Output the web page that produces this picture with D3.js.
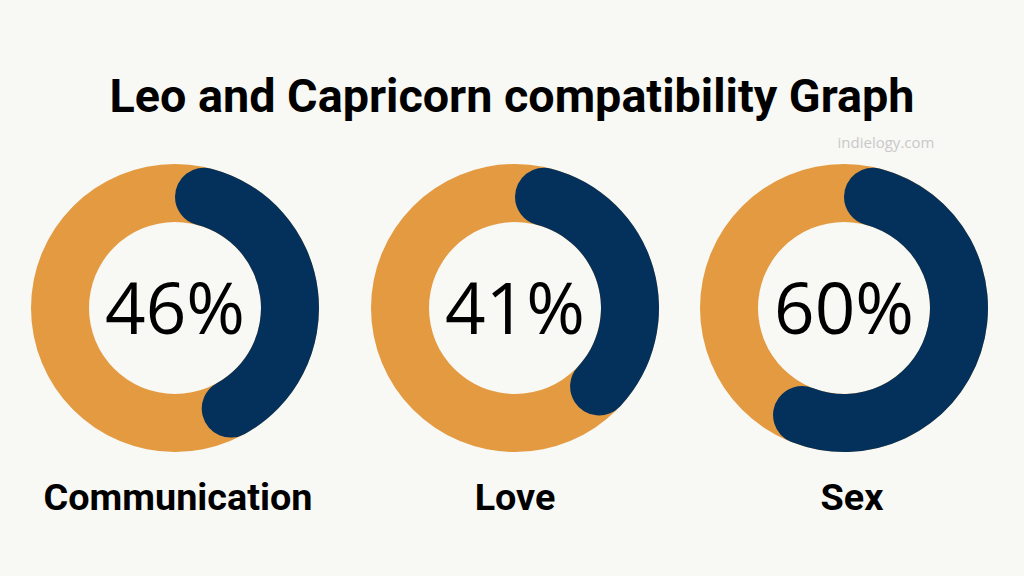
<!DOCTYPE html>
<html>
<head>
<meta charset="utf-8">
<script src="https://cdn.jsdelivr.net/npm/d3@7"></script>
<style>
  html, body { margin: 0; padding: 0; background: #f8f8f4; }
  svg { display: block; }
</style>
</head>
<body>
<script>
// Leo and Capricorn compatibility, three donut gauges

// Data
var categories = ["Communication", "Love", "Sex"];
var values = [46, 41, 60];
var titleText = "Leo and Capricorn compatibility Graph";
var sourceText = "indielogy.com";

// Page dimensions
var width = 1024,
  height = 576;

var outerR = 144,
  innerR = 86,
  centerY = 308;

var svg = d3.select("body")
  .append("svg")
  .attr("width", width)
  .attr("height", height);

svg.append("rect")
  .attr("width", width)
  .attr("height", height)
  .attr("fill", "#f8f8f4");

// x position of each donut (they are not quite evenly spaced)
var x = d3.scaleOrdinal()
  .domain(categories)
  .range([175, 515, 844]);

// label x is a touch off the donut centre
var xLabel = d3.scaleOrdinal()
  .domain(categories)
  .range([178, 515, 852]);

// percentage to angle
var angle = d3.scaleLinear()
  .domain([0, 100])
  .range([0, 2 * Math.PI]);

var ringArc = d3.arc()
  .innerRadius(innerR)
  .outerRadius(outerR)
  .startAngle(0)
  .endAngle(2 * Math.PI);

var valueArc = d3.arc()
  .innerRadius(innerR)
  .outerRadius(outerR)
  .cornerRadius((outerR - innerR) / 2)
  .startAngle(0)
  .endAngle(function(d) { return angle(d.value); });

var data = categories.map(function(c, i) {
  return { name: c, value: values[i] };
});

// Title
var title = svg.append("text")
  .attr("x", 512)
  .attr("y", 112)
  .attr("text-anchor", "middle")
  .style("font-family", "Roboto, 'Noto Sans', sans-serif")
  .style("font-weight", 700)
  .style("font-size", "40px")
  .attr("fill", "#000")
  .text(titleText);

// fit title to the width seen in the picture
var tw = title.node().getComputedTextLength();
title.style("font-size", (40 * 805 / tw) + "px");

svg.append("text")
  .attr("x", 886)
  .attr("y", 148)
  .attr("text-anchor", "middle")
  .style("font-family", "'Open Sans', sans-serif")
  .style("font-size", "15px")
  .attr("fill", "#c9c9c9")
  .text(sourceText);

// Donuts
var g = svg.selectAll(".donut")
  .data(data)
  .enter().append("g")
  .attr("class", "donut")
  .attr("transform", function(d) { return "translate(" + x(d.name) + "," + centerY + ")"; });

g.append("path")
  .attr("d", ringArc())
  .attr("fill", "#e39a41");

g.append("path")
  .attr("d", function(d) { return valueArc(d); })
  .attr("fill", "#04315c");

g.append("text")
  .attr("text-anchor", "middle")
  .attr("y", 26)
  .style("font-family", "'Open Sans', sans-serif")
  .style("font-weight", 400)
  .style("font-size", "71px")
  .attr("fill", "#000")
  .text(function(d) { return d.value + "%"; });

// Labels under the donuts
var labels = svg.selectAll(".label")
  .data(data)
  .enter().append("text")
  .attr("class", "label")
  .attr("x", function(d) { return xLabel(d.name); })
  .attr("y", 510)
  .attr("text-anchor", "middle")
  .style("font-family", "Roboto, 'Noto Sans', sans-serif")
  .style("font-weight", 700)
  .style("font-size", "35px")
  .attr("fill", "#000")
  .text(function(d) { return d.name; });

// size labels so "Communication" is as wide as in the picture
var lw = labels.filter(function(d, i) { return i === 0; }).node().getComputedTextLength();
labels.style("font-size", (35 * 269 / lw) + "px");
</script>
</body>
</html>
